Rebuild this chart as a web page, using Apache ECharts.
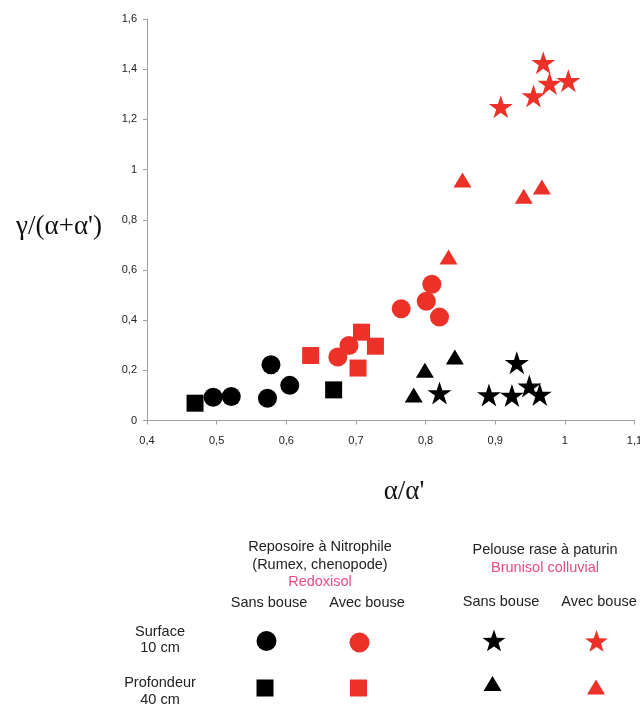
<!DOCTYPE html>
<html>
<head>
<meta charset="utf-8">
<style>html,body{margin:0;padding:0;background:#fff}#c{width:640px;height:704px}</style>
<script src="https://cdn.jsdelivr.net/npm/echarts@6/dist/echarts.min.js"></script>
</head>
<body>
<div id="c"></div>
<script>
// Data (x = α/α', y = γ/(α+α'))
var redoxSansSurface = [[0.495,0.093],[0.521,0.096],[0.578,0.222],[0.573,0.089],[0.605,0.140]];
var redoxSansProf = [[0.469,0.069],[0.668,0.122]];
var redoxAvecSurface = [[0.674,0.253],[0.690,0.299],[0.765,0.445],[0.801,0.475],[0.809,0.543],[0.820,0.412]];
var redoxAvecProf = [[0.635,0.259],[0.708,0.352],[0.728,0.296],[0.703,0.209]];
var brunSansSurface = [[0.820,0.110],[0.891,0.102],[0.924,0.100],[0.931,0.230],[0.949,0.137],[0.964,0.104]];
var brunSansProf = [[0.783,0.102],[0.799,0.200],[0.842,0.253]];
var brunAvecSurface = [[0.969,1.426],[0.908,1.250],[0.955,1.293],[0.978,1.343],[1.005,1.354]];
var brunAvecProf = [[0.833,0.652],[0.853,0.958],[0.941,0.894],[0.967,0.931]];

var xMin = 0.4, xMax = 1.1, xStep = 0.1;
var yMin = 0, yMax = 1.6, yStep = 0.2;

var RED = '#ec3228', BLACK = '#000000', PINK = '#ea4a88', GRAY = '#a0a0a0', TXT = '#222';
var STAR = 'path://M50,0 L61.17,34.55 L97.55,34.55 L68.07,55.87 L79.39,90.45 L50,69 L20.61,90.45 L31.93,55.87 L2.45,34.55 L38.83,34.55 Z';

function fmt(v){ return String(+v.toFixed(1)).replace('.', ','); }

function ser(name, data, symbol, size, color){
  return {type:'scatter', name:name, data:data, symbol:symbol, symbolSize:size,
    itemStyle:{color:color, opacity:1}, emphasis:{disabled:true}, z:2};
}

var chart = echarts.init(document.getElementById('c'), null, {renderer:'canvas'});

function T(text, x, y, color, size, family){
  return {type:'text', x:x, y:y, style:{text:text, fill:color||TXT, font:(size||14.5)+'px ' + (family||'"Liberation Sans", Arial, sans-serif'), align:'center', verticalAlign:'middle'}};
}
function starG(cx, cy, R, color){
  var pts = [], r = R*0.4;
  for (var k=0;k<10;k++){
    var a = (-90 + 36*k) * Math.PI/180, rr = (k%2===0) ? R : r;
    pts.push([cx + rr*Math.cos(a), cy + rr*Math.sin(a) + R*0.05]);
  }
  return {type:'polygon', shape:{points:pts}, style:{fill:color}};
}
function triG(cx, cy, w, h, color){
  return {type:'polygon', shape:{points:[[cx, cy-h/2],[cx+w/2, cy+h/2],[cx-w/2, cy+h/2]]}, style:{fill:color}};
}

chart.setOption({
  animation:false,
  backgroundColor:'#fff',
  grid:{left:147, right:5.5, top:19, bottom:283.5, containLabel:false, outerBoundsMode:'none'},
  xAxis:{type:'value', min:xMin, max:xMax, interval:xStep,
    axisLine:{show:true, onZero:false, lineStyle:{color:GRAY, width:1}},
    axisTick:{show:true, length:4, lineStyle:{color:GRAY}},
    axisLabel:{formatter:fmt, color:TXT, fontSize:11, margin:15, fontFamily:'"Liberation Sans", Arial, sans-serif'},
    splitLine:{show:false}},
  yAxis:{type:'value', min:yMin, max:yMax, interval:yStep,
    axisLine:{show:true, onZero:false, lineStyle:{color:GRAY, width:1}},
    axisTick:{show:true, length:4, lineStyle:{color:GRAY}},
    axisLabel:{formatter:fmt, color:TXT, fontSize:11, margin:10, fontFamily:'"Liberation Sans", Arial, sans-serif'},
    splitLine:{show:false}},
  series:[
    ser('Redoxisol sans bouse surface', redoxSansSurface, 'circle', 19, BLACK),
    ser('Redoxisol sans bouse profondeur', redoxSansProf, 'rect', 17, BLACK),
    ser('Redoxisol avec bouse surface', redoxAvecSurface, 'circle', 19, RED),
    ser('Redoxisol avec bouse profondeur', redoxAvecProf, 'rect', 17, RED),
    ser('Brunisol sans bouse surface', brunSansSurface, STAR, [24,23], BLACK),
    ser('Brunisol sans bouse profondeur', brunSansProf, 'triangle', [18,15], BLACK),
    ser('Brunisol avec bouse surface', brunAvecSurface, STAR, [24,23], RED),
    ser('Brunisol avec bouse profondeur', brunAvecProf, 'triangle', [18,15], RED)
  ],
  graphic:[
    T("γ/(α+α')", 59, 227, '#111', 27, '"Liberation Serif", "DejaVu Serif", serif'),
    T("α/α'", 404, 492, '#111', 27, '"Liberation Serif", "DejaVu Serif", serif'),
    T('Reposoire à Nitrophile', 320, 547),
    T('(Rumex, chenopode)', 320, 565),
    T('Redoxisol', 320, 582, PINK),
    T('Sans bouse', 269, 603),
    T('Avec bouse', 367, 603),
    T('Pelouse rase à paturin', 545, 550),
    T('Brunisol colluvial', 545, 568, PINK),
    T('Sans bouse', 501, 602),
    T('Avec bouse', 599, 602),
    T('Surface', 160, 632),
    T('10 cm', 160, 648),
    T('Profondeur', 160, 683),
    T('40 cm', 160, 700),
    {type:'circle', shape:{cx:266.5, cy:641, r:10}, style:{fill:BLACK}},
    {type:'circle', shape:{cx:359.5, cy:642.5, r:10}, style:{fill:RED}},
    starG(494, 641, 12, BLACK),
    starG(596.5, 641.5, 12, RED),
    {type:'rect', shape:{x:265-8.5, y:688-8.5, width:17, height:17}, style:{fill:BLACK}},
    {type:'rect', shape:{x:358.5-8.5, y:688-8.5, width:17, height:17}, style:{fill:RED}},
    triG(492.5, 683.5, 18, 15, BLACK),
    triG(596, 687, 18, 15, RED)
  ]
});
</script>
</body>
</html>
